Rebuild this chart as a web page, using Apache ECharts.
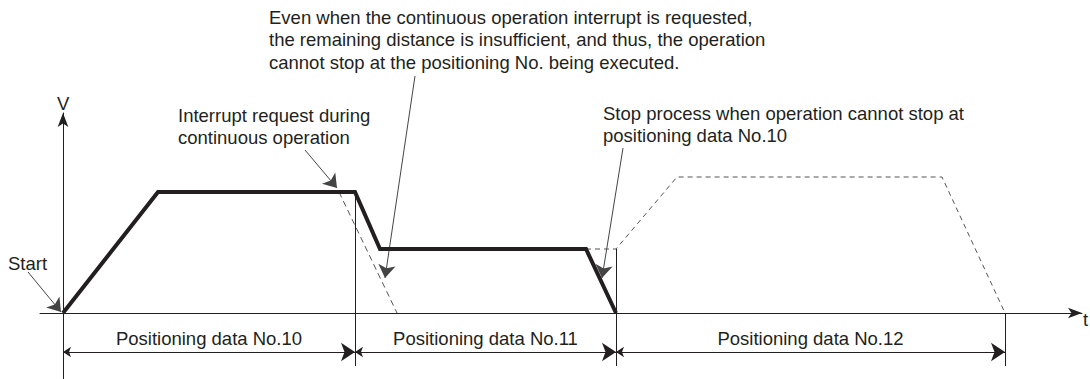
<!DOCTYPE html>
<html>
<head>
<meta charset="utf-8">
<script src="https://cdn.jsdelivr.net/npm/echarts@6/dist/echarts.min.js"></script>
<style>
  html, body { margin: 0; padding: 0; background: #fff; }
  #chart { width: 1090px; height: 379px; }
</style>
</head>
<body>
<div id="chart"></div>
<script>
// time (t) / speed (v) in drawing units, origin at the start point
const profileT = [0, 95, 292, 317, 523, 553]
const profileV = [0, 121, 121, 64, 64, 0]
const interruptT = [276, 334] // decel that would have been needed
const interruptV = [121, 0]
const nextT = [523, 553, 614, 879, 942] // No.12 profile that is not executed
const nextV = [64, 64, 136, 136, 0]
const boundaryT = [292, 553, 942]
const boundaryV = [121, 64, 0]
const segNames = ['Positioning data No.10', 'Positioning data No.11', 'Positioning data No.12']
const segStart = [0, 292, 553]
const segEnd = [292, 553, 942]

const INK = '#231f20'
const FONT = 'Liberation Sans, Arial, sans-serif'
const dimV = -39
const boundBottom = -53

function pairs(ts, vs) {
  return ts.map((t, i) => [t, vs[i]])
}

var chart = echarts.init(document.getElementById('chart'), null, { renderer: 'svg' })
chart.setOption({
  animation: false,
  grid: { left: 40, right: 8, top: 113, bottom: 0 },
  xAxis: {
    type: 'value', min: -23, max: 1019,
    splitLine: { show: false },
    axisTick: { show: false },
    axisLabel: { show: false },
    axisLine: { show: true, onZero: true, symbol: ['none', 'arrow'], symbolSize: [8, 14],
      lineStyle: { color: INK, width: 1 } }
  },
  yAxis: {
    type: 'value', min: -66, max: 200,
    splitLine: { show: false },
    axisTick: { show: false },
    axisLabel: { show: false },
    axisLine: { show: true, onZero: true, symbol: ['none', 'arrow'], symbolSize: [8, 14],
      lineStyle: { color: INK, width: 1 } }
  },
  series: [
    {
      // thin boundary lines between positioning data
      type: 'lines', coordinateSystem: 'cartesian2d', clip: false, silent: true,
      lineStyle: { color: INK, width: 1, opacity: 1 },
      symbol: ['none', 'none'],
      data: boundaryT.map((t, i) => ({ coords: [[t, boundaryV[i]], [t, boundBottom]] }))
    },
    {
      type: 'line', data: pairs(interruptT, interruptV), symbol: 'none', clip: false,
      lineStyle: { color: '#555', width: 1, type: [6, 4] }
    },
    {
      type: 'line', data: pairs(nextT, nextV), symbol: 'none', clip: false,
      lineStyle: { color: '#555', width: 1, type: [5, 4] }
    },
    {
      type: 'line', data: pairs(profileT, profileV), symbol: 'none', clip: false,
      lineStyle: { color: INK, width: 4, join: 'miter' }
    },
    {
      // dimension arrows with labels
      type: 'lines', coordinateSystem: 'cartesian2d', clip: false, silent: true,
      lineStyle: { color: INK, width: 1, opacity: 1 },
      symbol: ['arrow', 'arrow'], symbolSize: [8, 14],
      label: { show: true, position: 'middle', distance: 4, color: INK, fontSize: 18.5, fontFamily: FONT,
        formatter: p => p.name },
      data: segNames.map((n, i) => ({ name: n, coords: [[segStart[i], dimV], [segEnd[i], dimV]] }))
    },
    {
      // leader arrows of the notes
      type: 'lines', coordinateSystem: 'cartesian2d', clip: false, silent: true,
      lineStyle: { color: '#444', width: 1, opacity: 1 },
      symbol: ['none', 'arrow'], symbolSize: [7, 13],
      data: [
        { coords: [[-35, 41], [-2, 1]] },
        { coords: [[242, 163], [274, 125]] },
        { coords: [[352, 237], [322, 35]] },
        { coords: [[560, 165], [539, 35]] }
      ]
    }
  ],
  graphic: [
    { type: 'text', left: 269, top: 6, style: { text: 'Even when the continuous operation interrupt is requested,\nthe remaining distance is insufficient, and thus, the operation\ncannot stop at the positioning No. being executed.', fill: INK, fontSize: 18.5, fontFamily: FONT, lineHeight: 22.5 } },
    { type: 'text', left: 178, top: 104, style: { text: 'Interrupt request during\ncontinuous operation', fill: INK, fontSize: 18.5, fontFamily: FONT, lineHeight: 22 } },
    { type: 'text', left: 603, top: 102, style: { text: 'Stop process when operation cannot stop at\npositioning data No.10', fill: INK, fontSize: 18.5, fontFamily: FONT, lineHeight: 22 } },
    { type: 'text', left: 8, top: 252, style: { text: 'Start', fill: INK, fontSize: 18.5, fontFamily: FONT, lineHeight: 22 } },
    { type: 'text', left: 57, top: 92, style: { text: 'V', fill: INK, fontSize: 18.5, fontFamily: FONT, lineHeight: 22 } },
    { type: 'text', left: 1083, top: 308, style: { text: 't', fill: INK, fontSize: 18.5, fontFamily: FONT, lineHeight: 22 } }
  ]
})
</script>
</body>
</html>
